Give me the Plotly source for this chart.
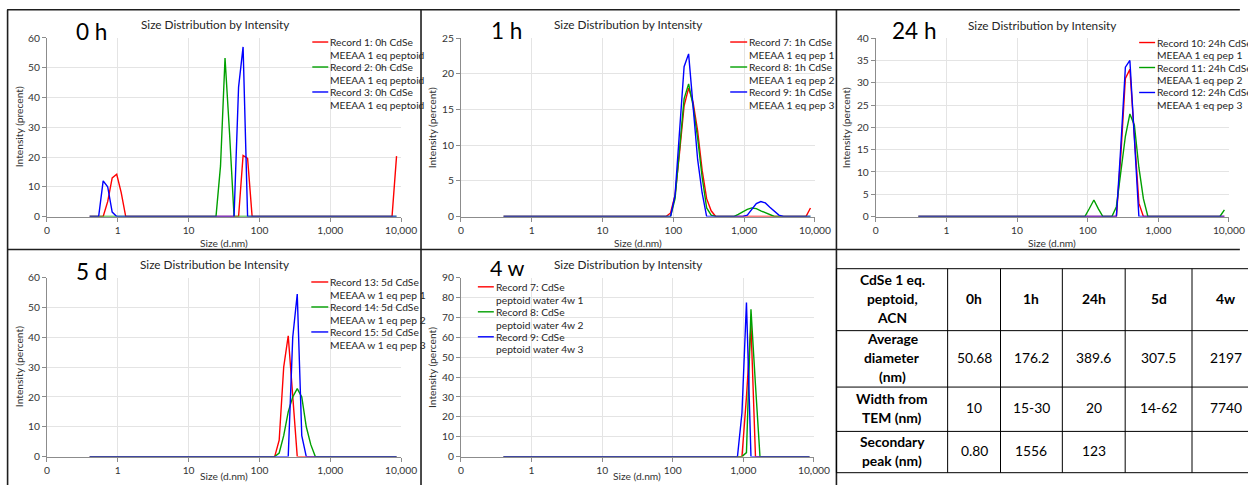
import plotly.graph_objects as go

FONT = "Lato"

# DLS size bins (d.nm), shared by every record
SIZES = [
    0.4, 0.4632, 0.5365, 0.6213, 0.7195, 0.8332, 0.9649, 1.117, 1.294, 1.499,
    1.736, 2.01, 2.328, 2.696, 3.122, 3.615, 4.187, 4.849, 5.615, 6.503,
    7.531, 8.721, 10.1, 11.7, 13.54, 15.69, 18.17, 21.04, 24.36, 28.21,
    32.67, 37.84, 43.82, 50.75, 58.77, 68.06, 78.82, 91.28, 105.7, 122.4,
    141.8, 164.2, 190.1, 220.2, 255.0, 295.3, 342.0, 396.1, 458.7, 531.2,
    615.1, 712.4, 825.0, 955.4, 1106, 1281, 1484, 1718, 1990, 2305,
    2669, 3091, 3580, 4145, 4801, 5560, 6439, 7456, 8635,
]

TICK_VALS = [0.1, 1, 10, 100, 1000, 10000]
TICK_TEXT = ["0", "1", "10", "100", "1,000", "10,000"]

# ---- 0 h ----
REC1_0H = [
    0, 0, 0, 0, 5, 13, 14.2, 8, 0, 0,
    0, 0, 0, 0, 0, 0, 0, 0, 0, 0,
    0, 0, 0, 0, 0, 0, 0, 0, 0, 0,
    0, 0, 0, 0, 20.5, 19.5, 0, 0, 0, 0,
    0, 0, 0, 0, 0, 0, 0, 0, 0, 0,
    0, 0, 0, 0, 0, 0, 0, 0, 0, 0,
    0, 0, 0, 0, 0, 0, 0, 0, 20.3,
]
REC2_0H = [
    0, 0, 0, 0, 0, 0, 0, 0, 0, 0,
    0, 0, 0, 0, 0, 0, 0, 0, 0, 0,
    0, 0, 0, 0, 0, 0, 0, 0, 0, 17,
    53.3, 28, 0, 0, 0, 0, 0, 0, 0, 0,
    0, 0, 0, 0, 0, 0, 0, 0, 0, 0,
    0, 0, 0, 0, 0, 0, 0, 0, 0, 0,
    0, 0, 0, 0, 0, 0, 0, 0, 0,
]
REC3_0H = [
    0, 0, 0, 12, 10, 1.5, 0, 0, 0, 0,
    0, 0, 0, 0, 0, 0, 0, 0, 0, 0,
    0, 0, 0, 0, 0, 0, 0, 0, 0, 0,
    0, 0, 0, 43.5, 57, 0, 0, 0, 0, 0,
    0, 0, 0, 0, 0, 0, 0, 0, 0, 0,
    0, 0, 0, 0, 0, 0, 0, 0, 0, 0,
    0, 0, 0, 0, 0, 0, 0, 0, 0,
]

# ---- 1 h ----
REC7_1H = [
    0, 0, 0, 0, 0, 0, 0, 0, 0, 0,
    0, 0, 0, 0, 0, 0, 0, 0, 0, 0,
    0, 0, 0, 0, 0, 0, 0, 0, 0, 0,
    0, 0, 0, 0, 0, 0, 0, 0.5, 3, 9,
    15.5, 18, 16, 12, 6.5, 2.5, 0.8, 0, 0, 0,
    0, 0, 0, 0, 0, 0, 0, 0, 0, 0,
    0, 0, 0, 0, 0, 0, 0, 0, 1.2,
]
REC8_1H = [
    0, 0, 0, 0, 0, 0, 0, 0, 0, 0,
    0, 0, 0, 0, 0, 0, 0, 0, 0, 0,
    0, 0, 0, 0, 0, 0, 0, 0, 0, 0,
    0, 0, 0, 0, 0, 0, 0, 0, 2.5, 10,
    16.5, 18.6, 15.5, 11, 5.5, 1.2, 0.2, 0, 0, 0,
    0, 0, 0.3, 0.7, 1.0, 1.2, 1.1, 0.8, 0.5, 0.2,
    0, 0, 0, 0, 0, 0, 0, 0, 0,
]
REC9_1H = [
    0, 0, 0, 0, 0, 0, 0, 0, 0, 0,
    0, 0, 0, 0, 0, 0, 0, 0, 0, 0,
    0, 0, 0, 0, 0, 0, 0, 0, 0, 0,
    0, 0, 0, 0, 0, 0, 0, 0, 3, 12.5,
    21, 22.8, 15, 8, 3.3, 0, 0, 0, 0, 0,
    0, 0, 0, 0, 0.2, 1.0, 1.8, 2.1, 1.9, 1.3,
    0.7, 0.2, 0, 0, 0, 0, 0, 0, 0,
]

# ---- 24 h ----
REC10_24H = [
    0, 0, 0, 0, 0, 0, 0, 0, 0, 0,
    0, 0, 0, 0, 0, 0, 0, 0, 0, 0,
    0, 0, 0, 0, 0, 0, 0, 0, 0, 0,
    0, 0, 0, 0, 0, 0, 0, 0, 0, 0,
    0, 0, 0, 0, 0, 14, 31, 33, 17, 3,
    0, 0, 0, 0, 0, 0, 0, 0, 0, 0,
    0, 0, 0, 0, 0, 0, 0, 0, 0,
]
REC11_24H = [
    0, 0, 0, 0, 0, 0, 0, 0, 0, 0,
    0, 0, 0, 0, 0, 0, 0, 0, 0, 0,
    0, 0, 0, 0, 0, 0, 0, 0, 0, 0,
    0, 0, 0, 0, 0, 0, 0, 0, 1.8, 3.7,
    1.7, 0, 0, 0, 2.2, 10, 18, 23, 20.5, 11,
    4, 0, 0, 0, 0, 0, 0, 0, 0, 0,
    0, 0, 0, 0, 0, 0, 0, 0, 1.5,
]
REC12_24H = [
    0, 0, 0, 0, 0, 0, 0, 0, 0, 0,
    0, 0, 0, 0, 0, 0, 0, 0, 0, 0,
    0, 0, 0, 0, 0, 0, 0, 0, 0, 0,
    0, 0, 0, 0, 0, 0, 0, 0, 0, 0,
    0, 0, 0, 0, 0, 16, 33.5, 35, 17, 0,
    0, 0, 0, 0, 0, 0, 0, 0, 0, 0,
    0, 0, 0, 0, 0, 0, 0, 0, 0,
]

# ---- 5 d ----
REC13_5D = [
    0, 0, 0, 0, 0, 0, 0, 0, 0, 0,
    0, 0, 0, 0, 0, 0, 0, 0, 0, 0,
    0, 0, 0, 0, 0, 0, 0, 0, 0, 0,
    0, 0, 0, 0, 0, 0, 0, 0, 0, 0,
    0, 0, 5.5, 30, 40.5, 20, 0, 0, 0, 0,
    0, 0, 0, 0, 0, 0, 0, 0, 0, 0,
    0, 0, 0, 0, 0, 0, 0, 0, 0,
]
REC14_5D = [
    0, 0, 0, 0, 0, 0, 0, 0, 0, 0,
    0, 0, 0, 0, 0, 0, 0, 0, 0, 0,
    0, 0, 0, 0, 0, 0, 0, 0, 0, 0,
    0, 0, 0, 0, 0, 0, 0, 0, 0, 0,
    0, 0, 1.2, 7, 15, 20, 22.8, 20, 10, 4,
    0, 0, 0, 0, 0, 0, 0, 0, 0, 0,
    0, 0, 0, 0, 0, 0, 0, 0, 0,
]
REC15_5D = [
    0, 0, 0, 0, 0, 0, 0, 0, 0, 0,
    0, 0, 0, 0, 0, 0, 0, 0, 0, 0,
    0, 0, 0, 0, 0, 0, 0, 0, 0, 0,
    0, 0, 0, 0, 0, 0, 0, 0, 0, 0,
    0, 0, 0, 0, 0, 40, 54.5, 7, 0, 0,
    0, 0, 0, 0, 0, 0, 0, 0, 0, 0,
    0, 0, 0, 0, 0, 0, 0, 0, 0,
]

# ---- 4 w ----
REC7_4W = [
    0, 0, 0, 0, 0, 0, 0, 0, 0, 0,
    0, 0, 0, 0, 0, 0, 0, 0, 0, 0,
    0, 0, 0, 0, 0, 0, 0, 0, 0, 0,
    0, 0, 0, 0, 0, 0, 0, 0, 0, 0,
    0, 0, 0, 0, 0, 0, 0, 0, 0, 0,
    0, 0, 0, 0, 30, 66, 0, 0, 0, 0,
    0, 0, 0, 0, 0, 0, 0, 0, 0,
]
REC8_4W = [
    0, 0, 0, 0, 0, 0, 0, 0, 0, 0,
    0, 0, 0, 0, 0, 0, 0, 0, 0, 0,
    0, 0, 0, 0, 0, 0, 0, 0, 0, 0,
    0, 0, 0, 0, 0, 0, 0, 0, 0, 0,
    0, 0, 0, 0, 0, 0, 0, 0, 0, 0,
    0, 0, 0, 0, 2, 74, 36, 0, 0, 0,
    0, 0, 0, 0, 0, 0, 0, 0, 0,
]
REC9_4W = [
    0, 0, 0, 0, 0, 0, 0, 0, 0, 0,
    0, 0, 0, 0, 0, 0, 0, 0, 0, 0,
    0, 0, 0, 0, 0, 0, 0, 0, 0, 0,
    0, 0, 0, 0, 0, 0, 0, 0, 0, 0,
    0, 0, 0, 0, 0, 0, 0, 0, 0, 0,
    0, 0, 0, 22, 77.5, 0, 0, 0, 0, 0,
    0, 0, 0, 0, 0, 0, 0, 0, 0,
]

SERIES_COLORS = ["#ff0000", "#00a000", "#0000ff"]

PANEL_SERIES = [
    [("Record 1: 0h CdSe", "MEEAA 1 eq peptoid", REC1_0H),
     ("Record 2: 0h CdSe", "MEEAA 1 eq peptoid", REC2_0H),
     ("Record 3: 0h CdSe", "MEEAA 1 eq peptoid", REC3_0H)],
    [("Record 7: 1h CdSe", "MEEAA 1 eq pep 1", REC7_1H),
     ("Record 8: 1h CdSe", "MEEAA 1 eq pep 2", REC8_1H),
     ("Record 9: 1h CdSe", "MEEAA 1 eq pep 3", REC9_1H)],
    [("Record 10: 24h CdSe", "MEEAA 1 eq pep 1", REC10_24H),
     ("Record 11: 24h CdSe", "MEEAA 1 eq pep 2", REC11_24H),
     ("Record 12: 24h CdSe", "MEEAA 1 eq pep 3", REC12_24H)],
    [("Record 13: 5d CdSe", "MEEAA w 1 eq pep 1", REC13_5D),
     ("Record 14: 5d CdSe", "MEEAA w 1 eq pep 2", REC14_5D),
     ("Record 15: 5d CdSe", "MEEAA w 1 eq pep 3", REC15_5D)],
    [("Record 7: CdSe", "peptoid water 4w 1", REC7_4W),
     ("Record 8: CdSe", "peptoid water 4w 2", REC8_4W),
     ("Record 9: CdSe", "peptoid water 4w 3", REC9_4W)],
]

PANEL_LABELS = ["0 h", "1 h", "24 h", "5 d", "4 w"]
PANEL_TITLES = [
    "Size Distribution by Intensity",
    "Size Distribution by Intensity",
    "Size Distribution by Intensity",
    "Size Distribution be Intensity",
    "Size Distribution by Intensity",
]
Y_TITLES = [
    "Intensity (precent)",
    "Intensity (percent)",
    "Intensity (percent)",
    "Intensity (percent)",
    "Intensity (percent)",
]
X_TITLE = "Size (d.nm)"
Y_MAX = [60, 25, 40, 60, 90]
Y_STEP = [10, 5, 5, 10, 10]

# Summary table
TABLE_HEADER = ["CdSe 1 eq.<br>peptoid,<br>ACN", "0h", "1h", "24h", "5d", "4w"]
TABLE_ROW_LABELS = ["Average<br>diameter<br>(nm)", "Width from<br>TEM (nm)", "Secondary<br>peak (nm)"]
AVG_DIAMETER = ["50.68", "176.2", "389.6", "307.5", "2197"]
TEM_WIDTH = ["10", "15-30", "20", "14-62", "7740"]
SECONDARY_PEAK = ["0.80", "1556", "123", "", ""]

# ---------------- view geometry ----------------
# The figure sits in the page behind the browser's default 8 px body margin and the
# 1264 x 501 page is shown in a 1248 x 485 view.  Positions below are view pixels;
# px()/py() turn them into figure paper coordinates.
FIG_W, FIG_H = 1248, 485
BODY_MARGIN = 8
PAGE_W, PAGE_H = FIG_W + 2 * BODY_MARGIN, FIG_H + 2 * BODY_MARGIN
VIEW_W, VIEW_H = 1248, 485
SX, SY = PAGE_W / VIEW_W, PAGE_H / VIEW_H
FONT_SCALE = 1.025


def px(x):
    return (x * SX - BODY_MARGIN) / FIG_W


def py(y):
    return 1 - (y * SY - BODY_MARGIN) / FIG_H


def fs(size):
    return size * FONT_SCALE


# plot boxes: left, right, top, bottom
BOXES = [
    (52, 407, 39.5, 216.7),
    (467, 822, 39.7, 216.7),
    (883, 1237, 39.7, 216.7),
    (52, 407, 277.3, 455),
    (467, 821, 277.3, 455),
]
TITLE_POS = [(220, 26), (635, 26), (1050, 27), (220, 264), (635, 264)]
LABEL_POS = [(79, 33), (495, 32.5), (897, 32.5), (79, 271), (494, 267.5)]
LABEL_SIZE = [22, 22, 22, 22, 21]
YTITLE_X = [24, 438, 853, 24, 438]
XTITLE_DY = [26, 26, 26, 19.5, 19.5]
LEGEND_POS = [(318, 334, 43.5), (737, 754, 43.5), (1147, 1163, 44),
              (317, 334, 281.7), (484, 500, 286.5)]
LEGEND_ENTRY_STEP = 24.8
LEGEND_LINE_GAP = 12.6

TABLE_COLS = [843.5, 955, 1008, 1070, 1133, 1200, 1268]
TABLE_ROWS = [268.5, 330, 386, 430, 471]
TABLE_LINE_H = 18.8

AXIS_GREY = "#8c8c8c"
GRID_GREY = "#e4e4e4"
TEXT_GREY = "#333333"

fig = go.Figure()
shapes = []
annotations = []

for i, series in enumerate(PANEL_SERIES):
    n = i + 1
    xa = "x" if n == 1 else f"x{n}"
    ya = "y" if n == 1 else f"y{n}"
    for (line1, line2, vals), color in zip(series, SERIES_COLORS):
        fig.add_trace(go.Scatter(
            x=SIZES, y=vals, mode="lines", name=f"{line1} {line2}",
            line=dict(color=color, width=1.4), xaxis=xa, yaxis=ya,
            showlegend=False, hoverinfo="skip",
        ))

    left, right, top, bottom = BOXES[i]
    common = dict(
        showline=True, linecolor=AXIS_GREY, linewidth=1,
        ticks="outside", ticklen=4, tickcolor=AXIS_GREY,
        showgrid=True, gridcolor=GRID_GREY, gridwidth=1,
        zeroline=False, fixedrange=True,
        tickfont=dict(family=FONT, size=fs(10), color=TEXT_GREY),
    )
    fig.layout[f"xaxis{'' if n == 1 else n}"] = dict(
        common, type="log", range=[-1, 4], tickmode="array",
        tickvals=TICK_VALS, ticktext=TICK_TEXT, ticklabeloverflow="allow",
        domain=[px(left), min(px(right), 1)], anchor=ya,
    )
    fig.layout[f"yaxis{'' if n == 1 else n}"] = dict(
        common, range=[0, Y_MAX[i]], tick0=0, dtick=Y_STEP[i],
        domain=[py(bottom), py(top)], anchor=xa,
    )

    # chart title, time label and axis titles
    tx, ty = TITLE_POS[i]
    annotations.append(dict(
        x=px(tx), y=py(ty), xref="paper", yref="paper", text=PANEL_TITLES[i],
        showarrow=False, xanchor="center", yanchor="middle",
        font=dict(family=FONT, size=fs(11.5), color="#262626"),
    ))
    lx, ly = LABEL_POS[i]
    annotations.append(dict(
        x=px(lx), y=py(ly), xref="paper", yref="paper", text=PANEL_LABELS[i],
        showarrow=False, xanchor="left", yanchor="middle",
        font=dict(family=FONT, size=fs(LABEL_SIZE[i]), color="#000000"),
    ))
    annotations.append(dict(
        x=px(YTITLE_X[i]), y=py((top + bottom) / 2), xref="paper", yref="paper",
        text=Y_TITLES[i], textangle=-90, showarrow=False,
        xanchor="center", yanchor="middle",
        font=dict(family=FONT, size=fs(10), color=TEXT_GREY),
    ))
    annotations.append(dict(
        x=px((left + right) / 2), y=py(bottom + XTITLE_DY[i]), xref="paper", yref="paper",
        text=X_TITLE, showarrow=False, xanchor="center", yanchor="middle",
        font=dict(family=FONT, size=fs(10), color=TEXT_GREY),
    ))

    # legend
    sx, txl, y0 = LEGEND_POS[i]
    for k, ((line1, line2, _), color) in enumerate(zip(series, SERIES_COLORS)):
        yk = y0 + k * LEGEND_ENTRY_STEP
        shapes.append(dict(
            type="line", xref="paper", yref="paper",
            x0=px(sx), x1=px(txl), y0=py(yk), y1=py(yk),
            line=dict(color=color, width=1.4),
        ))
        for j, txt in enumerate((line1, line2)):
            annotations.append(dict(
                x=px(txl), y=py(yk + j * LEGEND_LINE_GAP), xref="paper", yref="paper",
                text=txt, showarrow=False, xanchor="left", yanchor="middle",
                font=dict(family=FONT, size=fs(10), color="#262626"),
            ))

# panel frame lines
FRAME = "#1e1e1e"
for x0, y0, x1, y1 in [
    (12, 11.5, VIEW_W, 11.5), (12, 249.5, VIEW_W, 249.5),
    (12.5, 11.5, 12.5, VIEW_H), (427, 11.5, 427, VIEW_H), (843.5, 11.5, 843.5, VIEW_H),
]:
    shapes.append(dict(type="line", xref="paper", yref="paper",
                       x0=px(x0), y0=py(y0), x1=px(x1), y1=py(y1),
                       line=dict(color=FRAME, width=1.6)))

# table grid
for yv in TABLE_ROWS:
    shapes.append(dict(type="line", xref="paper", yref="paper",
                       x0=px(TABLE_COLS[0]), x1=px(TABLE_COLS[-1]), y0=py(yv), y1=py(yv),
                       line=dict(color="#000000", width=1)))
for xv in TABLE_COLS:
    shapes.append(dict(type="line", xref="paper", yref="paper",
                       x0=px(xv), x1=px(xv), y0=py(TABLE_ROWS[0]), y1=py(TABLE_ROWS[-1]),
                       line=dict(color="#000000", width=1)))


def cell(text, col, row, bold):
    cx = (TABLE_COLS[col] + TABLE_COLS[col + 1]) / 2
    cy = (TABLE_ROWS[row] + TABLE_ROWS[row + 1]) / 2 - 1.5
    lines = text.split("<br>") if text else []
    for k, ln in enumerate(lines):
        yk = cy + (k - (len(lines) - 1) / 2) * TABLE_LINE_H
        annotations.append(dict(
            x=px(cx), y=py(yk), xref="paper", yref="paper",
            text=f"<b>{ln}</b>" if bold else ln, showarrow=False,
            xanchor="center", yanchor="middle",
            font=dict(family=FONT, size=fs(13.5), color="#000000"),
        ))


for c, h in enumerate(TABLE_HEADER):
    cell(h, c, 0, True)
for r, (label, values) in enumerate(zip(TABLE_ROW_LABELS, [AVG_DIAMETER, TEM_WIDTH, SECONDARY_PEAK])):
    cell(label, 0, r + 1, True)
    for c, v in enumerate(values):
        cell(v, c + 1, r + 1, False)

fig.update_layout(
    width=FIG_W, height=FIG_H,
    margin=dict(l=0, r=0, t=0, b=0),
    paper_bgcolor="white", plot_bgcolor="white",
    showlegend=False,
    shapes=shapes, annotations=annotations,
    font=dict(family=FONT),
)

fig.write_html("out.html")
